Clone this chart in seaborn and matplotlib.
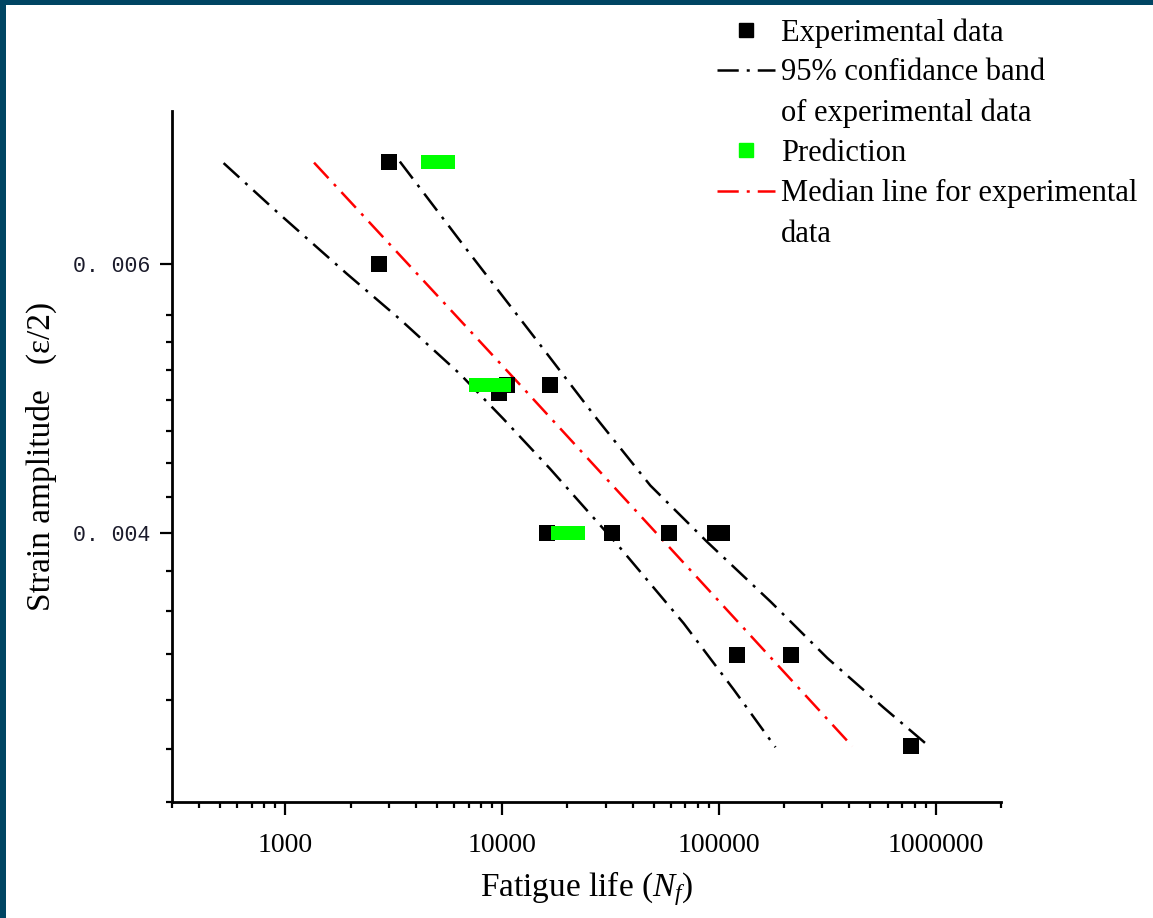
import matplotlib
matplotlib.use("Agg")
import matplotlib.pyplot as plt
import numpy as np
import seaborn as sns
from matplotlib.lines import Line2D
from matplotlib.patches import Rectangle
from matplotlib.path import Path
from matplotlib.ticker import FixedLocator, FixedFormatter, LogLocator, NullFormatter

# experimental tests (fatigue life vs strain amplitude)
exp_life = [3000, 2690, 9720, 10580, 16640, 16120, 32080, 58600, 96070, 103500, 121700, 214600, 766400]
exp_strain = [0.0070, 0.0060, 0.00494, 0.0050, 0.0050, 0.0040, 0.0040, 0.0040, 0.0040, 0.0040,
              0.00333, 0.00333, 0.0029]

# model prediction
pred_life = [5070, 8380, 9190, 20090]
pred_strain = [0.0070, 0.0050, 0.0050, 0.0040]

# median line and 95% confidence band
median_life = [1356, 12760, 412300]
median_strain = [0.00699, 0.00496, 0.0029]
lower_life = [519, 909, 1913, 3374, 6389, 10125, 16640, 34200, 68730, 117000, 182300]
lower_strain = [0.006985, 0.006495, 0.005915, 0.005521, 0.005083, 0.004751, 0.004406,
                0.003927, 0.003491, 0.003159, 0.002896]
upper_life = [3374, 6861, 13930, 27350, 48230, 88140, 172900, 316000, 577000, 931400]
upper_strain = [0.007001, 0.006132, 0.005383, 0.004751, 0.004297, 0.003947, 0.003607,
                0.003313, 0.003073, 0.0029]

x_ticks = [1e3, 1e4, 1e5, 1e6]
x_tick_labels = ["1000", "10000", "100000", "1000000"]
y_ticks = [0.004, 0.006]
y_tick_labels = ["0. 004", "0. 006"]
legend_labels = ["Experimental data", "95% confidance band", "of experimental data",
                 "Prediction", "Median line for experimental", "data"]

SERIF = "Liberation Serif"
W, H = 1153, 918

sns.set_style("ticks")
plt.rcParams["font.family"] = [SERIF, "DejaVu Serif"]
plt.rcParams["mathtext.fontset"] = "custom"
plt.rcParams["mathtext.rm"] = SERIF
plt.rcParams["mathtext.it"] = SERIF + ":italic"
for key in ["text.color", "axes.labelcolor", "axes.edgecolor", "xtick.color", "ytick.color"]:
    plt.rcParams[key] = "black"

fig = plt.figure(figsize=(W / 100, H / 100), dpi=100)
ax = fig.add_axes([172 / W, 1 - 802 / H, 829 / W, 691 / H])
ax.set_xscale("log")
ax.set_yscale("log")

dashdot = (0, (8.5, 3.2, 1.2, 3.2))
for life, strain, col in [(lower_life, lower_strain, "black"),
                          (upper_life, upper_strain, "black"),
                          (median_life, median_strain, "#ff0000")]:
    sns.lineplot(x=life, y=strain, ax=ax, color=col, lw=1.8, linestyle=dashdot,
                 estimator=None, sort=False, zorder=2)

sns.scatterplot(x=exp_life, y=exp_strain, ax=ax, marker="s", s=121, color="black",
                linewidth=0, zorder=3, legend=False)

# wide green bars for the predictions
bar = Path([(-17.5, -7.5), (17.5, -7.5), (17.5, 7.5), (-17.5, 7.5), (-17.5, -7.5)], closed=True)
sns.scatterplot(x=pred_life, y=pred_strain, ax=ax, marker=bar, s=635, color="#00ff00",
                linewidth=0, zorder=4, legend=False)

ax.set_xlim(300, 2e6)
step = 0.002 / 9
ax.set_ylim(0.004 - 6 * step, 0.006 + 7 * step)

ax.xaxis.set_major_locator(FixedLocator(x_ticks))
ax.xaxis.set_major_formatter(FixedFormatter(x_tick_labels))
ax.xaxis.set_minor_locator(LogLocator(subs=np.arange(2, 10), numticks=50))
ax.xaxis.set_minor_formatter(NullFormatter())

ax.yaxis.set_major_locator(FixedLocator(y_ticks))
ax.yaxis.set_major_formatter(FixedFormatter(y_tick_labels))
ax.yaxis.set_minor_locator(FixedLocator([0.004 + k * step for k in range(-6, 8) if k not in (0, 9)]))
ax.yaxis.set_minor_formatter(NullFormatter())

sns.despine(ax=ax)
for side in ["left", "bottom"]:
    ax.spines[side].set_linewidth(2)
ax.tick_params(which="major", length=9, width=1.6, direction="out")
ax.tick_params(which="minor", length=4.5, width=1.6, direction="out")
ax.tick_params(axis="x", labelsize=20, pad=13)
ax.tick_params(axis="y", pad=7)
for lab in ax.get_yticklabels():
    lab.set_fontfamily("Liberation Mono")
    lab.set_fontsize(15.5)
    lab.set_color("#1a1a2a")

ax.set_xlabel("Fatigue life ($N_f$)", fontsize=24, labelpad=8)
ax.set_ylabel("Strain amplitude   (\u03b5/2)", fontsize=24)
ax.yaxis.set_label_coords(-0.139, 0.5)

handles = [
    Line2D([], [], ls="none", marker="s", ms=9.5, color="black"),
    Line2D([], [], color="black", lw=1.8, linestyle=dashdot),
    Line2D([], [], ls="none"),
    Line2D([], [], ls="none", marker="s", ms=9.5, color="#00ff00"),
    Line2D([], [], color="#ff0000", lw=1.8, linestyle=dashdot),
    Line2D([], [], ls="none"),
]
fig.legend(handles, legend_labels, loc="upper left", bbox_to_anchor=(717 / W, 1 - 18 / H),
           frameon=False, fontsize=22, handlelength=1.9, handletextpad=0.2,
           labelspacing=0.36, borderpad=0, borderaxespad=0)

# dark frame along the top and left edge of the image
fig.add_artist(Rectangle((0, 0), 6 / W, 1, transform=fig.transFigure, color="#004563", lw=0))
fig.add_artist(Rectangle((0, 1 - 5 / H), 1, 5 / H, transform=fig.transFigure, color="#004563", lw=0))

fig.savefig("out.png", dpi=100)
